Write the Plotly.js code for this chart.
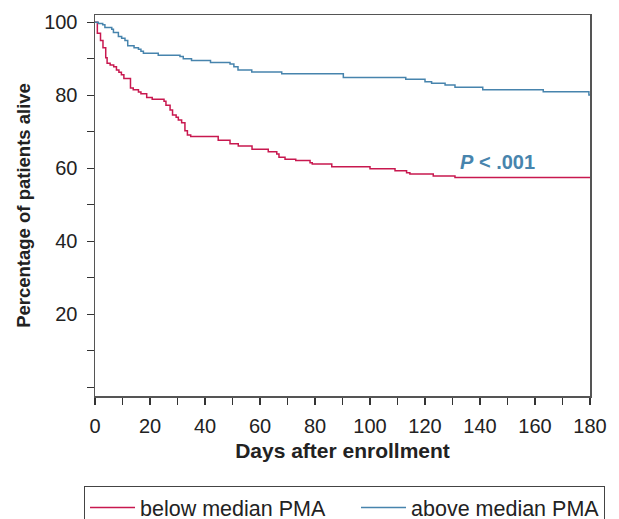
<!DOCTYPE html>
<html>
<head>
<meta charset="utf-8">
<script src="https://cdn.plot.ly/plotly-3.0.1.min.js"></script>
<style>html,body{margin:0;padding:0;background:#fff;}#chart{width:619px;height:519px;}</style>
</head>
<body>
<div id="chart"></div>
<script>
// Kaplan-Meier style survival curves
const belowDays = [0, 0.85, 2.0, 2.9, 3.9, 4.4, 5.5, 6.8, 7.8, 8.7, 9.6, 10.5, 12.9, 13.9, 15.8, 16.7, 18.8, 20.8, 25.1, 25.8, 27.3, 28.2, 29.5, 30.3, 31.5, 32.7, 33.6, 34.8, 44.8, 49.1, 52.1, 57.1, 63.0, 66.1, 66.9, 69.1, 73.0, 78.2, 79.0, 86.1, 100.0, 109.1, 113.3, 114.5, 123.0, 130.9, 180];
const belowPct  = [100, 97.0, 95.0, 93.0, 90.3, 88.8, 88.3, 87.8, 86.9, 86.3, 85.6, 84.6, 82.0, 81.5, 80.9, 80.4, 79.4, 78.9, 78.4, 77.3, 76.0, 74.6, 74.0, 73.2, 72.5, 70.3, 69.1, 68.7, 67.7, 66.7, 66.1, 65.2, 64.5, 63.9, 63.0, 62.5, 62.1, 61.5, 61.2, 60.4, 59.9, 59.3, 58.8, 58.4, 57.9, 57.5, 57.5];
const aboveDays = [0, 1.2, 2.8, 3.6, 6.1, 6.7, 8.5, 9.7, 10.9, 11.9, 14.2, 15.8, 16.7, 17.6, 23.0, 30.9, 32.1, 35.1, 42.0, 49.1, 50.5, 52.0, 57.0, 67.9, 90.3, 113.0, 120.0, 122.4, 127.3, 130.9, 141.0, 163.0, 179.6, 180];
const abovePct  = [100, 99.7, 99.3, 98.6, 98.1, 97.2, 96.1, 95.6, 95.0, 93.6, 93.0, 92.6, 92.1, 91.5, 91.0, 90.6, 90.0, 89.5, 89.0, 88.6, 87.8, 86.9, 86.4, 85.9, 84.9, 84.4, 83.7, 83.3, 82.8, 82.2, 81.5, 81.0, 80.1, 80.1];
const seriesNames = ['below median PMA', 'above median PMA'];
const xTickVals = [0,10,20,30,40,50,60,70,80,90,100,110,120,130,140,150,160,170,180];
const xTickText = ['0','','20','','40','','60','','80','','100','','120','','140','','160','','180'];
const yTickVals = [0,10,20,30,40,50,60,70,80,90,100];
const yTickText = ['','','20','','40','','60','','80','','100'];
const pLabel = '<b><i>P</i> &lt; .001</b>';

const RED = '#c8184f';
const BLUE = '#4784ad';
const FONT = 'Liberation Sans, Arial, Helvetica, sans-serif';

const traces = [
  {x: belowDays, y: belowPct, name: seriesNames[0], type: 'scatter', mode: 'lines', legendwidth: 211,
   line: {shape: 'hv', color: RED, width: 1.5}},
  {x: aboveDays, y: abovePct, name: seriesNames[1], type: 'scatter', mode: 'lines', legendwidth: 188,
   line: {shape: 'hv', color: BLUE, width: 1.5}}
];

const axisCommon = {
  showgrid: false, zeroline: false, showline: true, linecolor: '#555', linewidth: 1.5,
  mirror: true, ticks: 'outside', ticklen: 7, tickwidth: 1.2, tickcolor: '#333',
  tickfont: {family: FONT, size: 20, color: '#222'}, tickmode: 'array', automargin: false
};

const layout = {
  width: 619, height: 519,
  margin: {l: 95, r: 29, t: 15, b: 123, autoexpand: false},
  paper_bgcolor: '#fff', plot_bgcolor: '#fff',
  font: {family: FONT, color: '#222'},
  showlegend: true,
  legend: {orientation: 'h', xref: 'paper', yref: 'paper', x: -0.0222, xanchor: 'left', y: -0.2362, yanchor: 'top',
           bordercolor: '#444', borderwidth: 1, font: {family: FONT, size: 21.5, color: '#222'},
           itemwidth: 45, traceorder: 'normal'},
  xaxis: Object.assign({}, axisCommon, {range: [0, 180], tickvals: xTickVals, ticktext: xTickText,
    ticklabelstandoff: 4,
    title: {text: '<b>Days after enrollment</b>', font: {family: FONT, size: 21, color: '#222'}, standoff: 8}}),
  yaxis: Object.assign({}, axisCommon, {range: [-2.4, 102], tickvals: yTickVals, ticktext: yTickText,
    ticklabelstandoff: 5,
    title: {text: '<b>Percentage of patients alive</b>', font: {family: FONT, size: 18.5, color: '#222'}, standoff: 8}}),
  annotations: [{x: 132, y: 61.7, xref: 'x', yref: 'y', xanchor: 'left', yanchor: 'middle',
    text: pLabel, showarrow: false, font: {family: FONT, size: 20, color: BLUE}}]
};

Plotly.newPlot('chart', traces, layout, {staticPlot: true, displayModeBar: false});
</script>
</body>
</html>
